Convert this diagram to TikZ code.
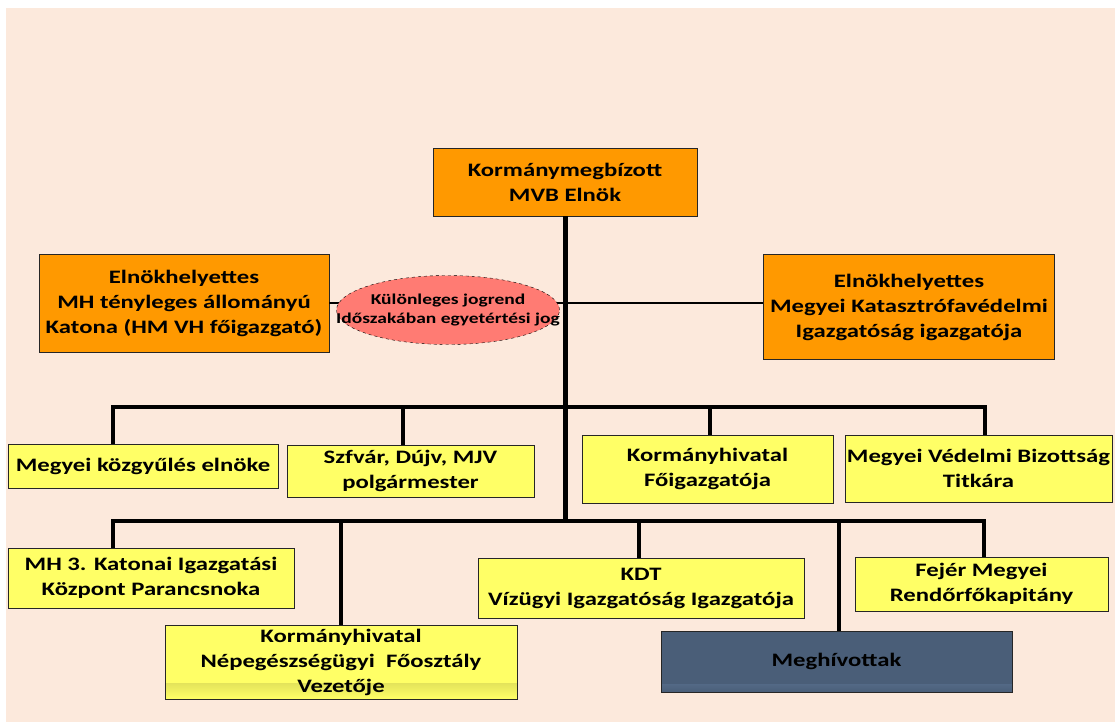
\documentclass[tikz,border=0pt]{standalone}
\usepackage{fontspec}
\setmainfont{Carlito}[FakeStretch=1.3]
\usetikzlibrary{shapes.geometric}

\definecolor{peach}{HTML}{FCE9DC}
\definecolor{orng}{HTML}{FF9900}
\definecolor{yell}{HTML}{FFFF66}
\definecolor{salmon}{HTML}{FF7B73}
\definecolor{slate}{HTML}{4A5E78}
\definecolor{paleblue}{HTML}{8DB3E2}

\tikzset{
  box/.style={draw=black!85, line width=0.8pt, inner sep=0pt, align=center,
    font=\fontsize{19}{25}\selectfont\bfseries},
  obox/.style={box, fill=orng},
  ybox/.style={box, fill=yell},
  % y axis is flipped, so top/bottom of the shading swap
  fade/.style n args={3}{path picture={\shade[top color=#2, bottom color=#1]
    ([yshift=#3 pt]path picture bounding box.south west)
    rectangle (path picture bounding box.south east);}},
  link/.style={line width=4pt},
  bar/.style={line width=4pt, line cap=rect},
}

\begin{document}
\begin{tikzpicture}[x=1pt, y=-1pt]
  \useasboundingbox (0,0) rectangle (1115,722);
  \fill[white] (0,0) rectangle (1115,722);
  \fill[peach] (6,8) rectangle (1115,722);

  % top level
  \node[obox, minimum width=264pt, minimum height=68pt] (elnok) at (565,182)
  {Kormánymegbízott\\MVB Elnök};
  \node[obox, minimum width=290pt, minimum height=98pt] (helyL) at (184,303)
  {Elnökhelyettes\\MH tényleges állományú\\Katona (HM VH főigazgató)};
  \node[obox, minimum width=291pt, minimum height=105pt] (helyR) at (909,307)
  {Elnökhelyettes\\Megyei Katasztrófavédelmi\\Igazgatóság igazgatója};

  % first row
  \node[ybox, minimum width=270pt, minimum height=44pt] (megye) at (143,466)
  {Megyei közgyűlés elnöke};
  \node[ybox, minimum width=247pt, minimum height=52pt] (polg) at (410.5,471)
  {Szfvár, Dújv, MJV\\polgármester};
  \node[ybox, minimum width=251pt, minimum height=68pt] (fo) at (707.5,469)
  {Kormányhivatal\\Főigazgatója};
  \node[ybox, minimum width=267pt, minimum height=67pt] (titkar) at (978.5,468.5)
  {Megyei Védelmi Bizottság\\Titkára};

  % second row
  \node[ybox, minimum width=286pt, minimum height=60pt] (mh3) at (151,578)
  {MH 3. Katonai Igazgatási\\Központ Parancsnoka};
  \node[ybox, fade={yell}{yell!50!black}{16}, minimum width=352pt, minimum height=74pt] (nep) at (341,662)
  {Kormányhivatal\\Népegészségügyi~~Főosztály\\Vezetője};
  \node[ybox, minimum width=326pt, minimum height=60pt] (kdt) at (641,588)
  {KDT\\Vízügyi Igazgatóság Igazgatója};
  \node[ybox, minimum width=253pt, minimum height=54pt] (fejer) at (981.5,584)
  {Fejér Megyei\\Rendőrfőkapitány};
  \node[box, fill=slate, fade={slate}{paleblue}{8}, minimum width=351pt, minimum height=61pt] (meghiv) at (836.5,661.5)
  {Meghívottak};

  \coordinate (barA) at (113,407);
  \coordinate (barB) at (985,407);
  \coordinate (barC) at (113,521);
  \coordinate (barD) at (984,521);

  \draw[line width=5pt] (elnok.south) -- (elnok.south |- barC);
  \draw[line width=2pt] (helyL.east) -- (helyL.east -| helyR.west);

  \draw[bar] (barA) -- (barB);
  \draw[bar, line width=3.5pt] (barC) -- (barD);
  \foreach \n/\dx in {megye/-30, polg/-7.5, fo/2.5, titkar/6.5}
    \draw[link] ([xshift=\dx pt]\n.north) -- ([xshift=\dx pt]\n.north |- barA);
  \foreach \n/\dx in {mh3/-38, nep/0, kdt/-2, meghiv/2.5, fejer/2.5}
    \draw[link] ([xshift=\dx pt]\n.north) -- ([xshift=\dx pt]\n.north |- barC);

  \node[ellipse, draw, dashed, fill=salmon, inner sep=0pt,
    minimum width=223pt, minimum height=69pt,
    label={[align=center, font=\fontsize{15}{18.5}\selectfont\bfseries]center:
      Különleges jogrend\\Időszakában egyetértési jog}] (jog) at (448,310) {};
\end{tikzpicture}
\end{document}
